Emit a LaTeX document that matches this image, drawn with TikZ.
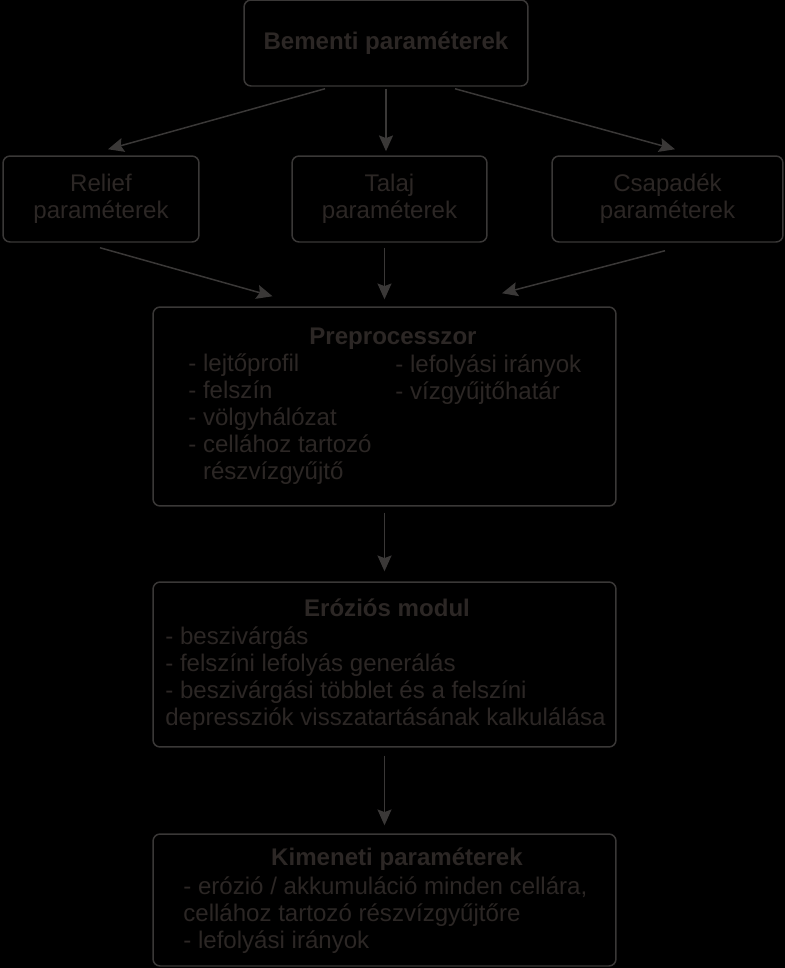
\documentclass[tikz,border=0pt]{standalone}
\usepackage{fontspec}
\setmainfont{Liberation Sans}
\usetikzlibrary{arrows.meta, positioning, calc}
\definecolor{inkcolor}{RGB}{44,39,37}
\definecolor{edgecolor}{RGB}{58,56,55}

\begin{document}
\begin{tikzpicture}[
    x=0.02cm, y=-0.02cm,
    box/.style={rectangle, rounded corners=4pt, draw=edgecolor, line width=0.85pt, inner sep=0pt, text=inkcolor, align=center},
    title/.style={text=inkcolor, font=\fontsize{13.7}{15.25}\selectfont\bfseries, inner sep=0pt, anchor=base},
    items/.style={text=inkcolor, align=left, inner sep=0pt, anchor=base west},
    arrow/.style={draw=edgecolor, line width=0.85pt, -{Stealth[length=9pt, width=8pt, inset=1.5pt]}},
    font=\fontsize{13.7}{15.25}\selectfont
]
    % Background
    \path[use as bounding box, fill=black] (0,0) rectangle (785,968);

    % Boxes
    \node[box, minimum width=5.68cm, minimum height=1.72cm, font=\fontsize{13.7}{15.25}\selectfont\bfseries] (bementi) at (386,43) {Bementi paraméterek};
    \node[box, minimum width=3.92cm, minimum height=1.72cm] (relief) at (101,199) {Relief\\paraméterek};
    \node[box, minimum width=3.90cm, minimum height=1.72cm] (talaj) at (389.5,199) {Talaj\\paraméterek};
    \node[box, minimum width=4.62cm, minimum height=1.72cm] (csapadek) at (667.5,199) {Csapadék\\paraméterek};
    \node[box, minimum width=9.26cm, minimum height=3.98cm] (prep) at (384.5,406.5) {};
    \node[box, minimum width=9.26cm, minimum height=3.30cm] (eroz) at (384.5,664.5) {};
    \node[box, minimum width=9.26cm, minimum height=2.64cm] (kimenet) at (384.5,900) {};

    % Box contents (base = last line)
    \node[title] (preptitle) at (393,344) {Preprocesszor};
    \node[items] (prepleft) at (188,479) {- lejtőprofil\\- felszín\\- völgyhálózat\\- cellához tartozó\\\phantom{- }részvízgyűjtő};
    \node[items] (prepright) at (395,399) {- lefolyási irányok\\- vízgyűjtőhatár};
    \node[title] (eroztitle) at (387,616) {Eróziós modul};
    \node[items] (erozlist) at (165,725) {- beszivárgás\\- felszíni lefolyás generálás\\- beszivárgási többlet és a felszíni\\depressziók visszatartásának kalkulálása};
    \node[title] (kimtitle) at (397,865) {Kimeneti paraméterek};
    \node[items] (kimlist) at (183,948) {- erózió / akkumuláció minden cellára,\\cellához tartozó részvízgyűjtőre\\- lefolyási irányok};

    % Arrows
    \draw[arrow] ([shift={(-61,2)}]bementi.south) -- ([shift={(7,-6)}]relief.north);
    \draw[arrow] ([yshift=-0.04cm]bementi.south) -- ([yshift=0.08cm]bementi.south |- talaj.north);
    \draw[arrow] ([shift={(69,2)}]bementi.south) -- ([shift={(7.5,-6)}]csapadek.north);
    \draw[arrow] ([shift={(-1,5)}]relief.south) -- ([shift={(-112,-10)}]prep.north);
    \draw[arrow] ([yshift=-0.1cm]talaj.south -| prep.north) -- ([yshift=0.14cm]prep.north);
    \draw[arrow] ([shift={(-2.5,8)}]csapadek.south) -- ([shift={(117.5,-13)}]prep.north);
    \draw[arrow] ([yshift=-0.12cm]prep.south) -- ([yshift=0.2cm]eroz.north);
    \draw[arrow] ([yshift=-0.16cm]eroz.south) -- ([yshift=0.16cm]kimenet.north);
\end{tikzpicture}
\end{document}
